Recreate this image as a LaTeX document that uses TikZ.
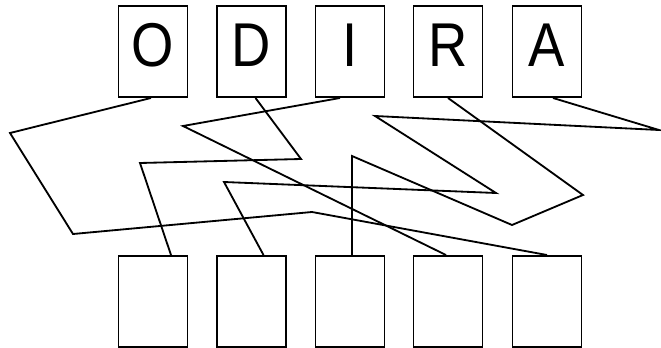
\documentclass[tikz,border=0pt]{standalone}
\usepackage{fontspec}
\setmainfont[FakeStretch=0.88]{Liberation Sans}
\usetikzlibrary{positioning, calc}

\begin{document}
\begin{tikzpicture}[
  x=0.5mm, y=-0.5mm,
  box/.style={rectangle, draw, line width=2.8pt, minimum width=34.5mm, minimum height=45.5mm, inner sep=0pt,
    font=\fontsize{88}{90}\selectfont, text height=22mm, text depth=6.5mm},
  wire/.style={line width=2.6pt, line join=miter},
]
  \useasboundingbox (0,0) rectangle (661,348);

  % letters on top
  \node[box] (tO) at (153, 51.5) {O};
  \node[box] (tD) at (251.5, 51.5) {D};
  \node[box] (tI) at (350, 51.5) {I};
  \node[box] (tR) at (448, 51.5) {R};
  \node[box] (tA) at (547, 51.5) {A};

  % empty slots below
  \node[box] (b1) at (153, 301.5) {};
  \node[box] (b2) at (251.5, 301.5) {};
  \node[box] (b3) at (350, 301.5) {};
  \node[box] (b4) at (448, 301.5) {};
  \node[box] (b5) at (547, 301.5) {};

  \draw[wire] ([xshift=-1mm]tO.south) -- (10,133) -- (73,234) -- (312,212) -- (b5.north);
  \draw[wire] ([xshift=2mm]tD.south) -- (301,159) -- (140,163) -- ([xshift=9mm]b1.north);
  \draw[wire] ([xshift=-5mm]tI.south) -- (183,126) -- ([xshift=-1mm]b4.north);
  \draw[wire] (tR.south) -- (583,195) -- (512,225) -- (352,156) -- ([xshift=1mm]b3.north);
  \draw[wire] ([xshift=3mm]tA.south) -- (659,130) -- (375,116) -- (496,193) -- (224,182) -- ([xshift=6mm]b2.north);
\end{tikzpicture}
\end{document}
